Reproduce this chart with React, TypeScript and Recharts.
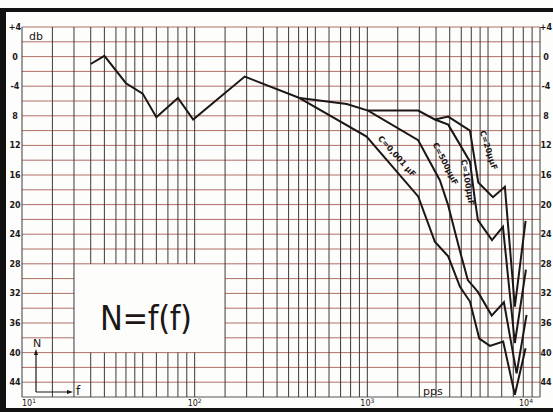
import React from 'react';
import { LineChart, Line, XAxis, YAxis, ReferenceLine } from 'recharts';

// frequency (pps) and attenuation (db)
const trunkFreq = [25, 30, 40, 50, 60, 80, 98, 195, 405];
const trunkDb = [1.0, -0.1, 3.6, 5.0, 8.2, 5.6, 8.5, 2.7, 5.6];

const c0001Freq = [405, 990, 1970, 2460, 2940, 3440, 3930, 4450, 5130, 6120, 7150, 8250];
const c0001Db = [5.6, 10.8, 18.9, 25.0, 27.0, 31.1, 33.1, 38.1, 39.1, 38.5, 45.7, 39.4];

const c500Freq = [405, 760, 1010, 1970, 2630, 2930, 3440, 3820, 4370, 5250, 6180, 7320, 8360];
const c500Db = [5.6, 6.4, 7.3, 11.3, 16.7, 20.0, 26.3, 30.2, 31.8, 35.0, 33.2, 42.8, 34.9];

const c100Freq = [1010, 1970, 2460, 2940, 3930, 4200, 4370, 5270, 6100, 7150, 8290];
const c100Db = [7.3, 7.3, 8.5, 9.2, 14.2, 19.4, 22.1, 24.8, 23.0, 38.7, 28.8];

const c20Freq = [2460, 2940, 3930, 4390, 5340, 6260, 7150, 8250];
const c20Db = [8.5, 8.1, 10.0, 17.0, 19.0, 17.6, 33.8, 22.2];

const dbTicks = [-4, 0, 4, 8, 12, 16, 20, 24, 28, 32, 36, 40, 44];
const dbTickLabels = ['+4', '0', '-4', '8', '12', '16', '20', '24', '28', '32', '36', '40', '44'];
const freqTicks = [10, 100, 1000, 10000];
const freqTickExp = ['1', '2', '3', '4'];

const decadeSteps = [1, 1.5, 2, 2.5, 3, 3.5, 4, 4.5, 5, 6, 7, 8, 9];
const decades = [10, 100, 1000];

const zip = (fs: number[], vs: number[]) => fs.map((f, i) => ({ f, v: vs[i] }));

const series = [
  zip(trunkFreq, trunkDb),
  zip(c0001Freq, c0001Db),
  zip(c500Freq, c500Db),
  zip(c100Freq, c100Db),
  zip(c20Freq, c20Db),
];

// grid
const vLines = [...decades.flatMap(d => decadeSteps.map(s => d * s)), 10000];
const hLines: number[] = [];
for (let v = -4; v <= 46; v += 2) hLines.push(v);

// white panel holding the formula (grid skipped there)
const boxF = [20, 150];
const boxDb = [28, 40];

const H_COLOR = '#a4564f';
const V_COLOR = '#3a3a3a';
const INK = '#1c1616';
const FONT = '"DejaVu Sans", sans-serif';

function DbTick(props: any) {
  const { y, payload } = props;
  const i = dbTicks.indexOf(payload.value);
  const label = dbTickLabels[i] ?? String(payload.value);
  return (
    <g fontFamily={FONT} fontSize={8} fontWeight="bold" fill={INK}>
      <text x={15} y={y + 3} textAnchor="middle">{label}</text>
      <text x={546} y={y + 3} textAnchor="middle">{label}</text>
    </g>
  );
}

function FreqTick(props: any) {
  const { x, payload } = props;
  const i = freqTicks.indexOf(payload.value);
  const anchor = i === 0 ? 'start' : i === freqTicks.length - 1 ? 'end' : 'middle';
  return (
    <text x={x} y={406} textAnchor={anchor} fontFamily={FONT} fontSize={8} fill={INK}>
      10<tspan dy={-3} fontSize={6}>{freqTickExp[i]}</tspan>
    </text>
  );
}

export default function App() {
  return (
    <div style={{ position: 'absolute', left: 0, top: 0, width: 553, height: 412, background: '#fdfdfb' }}>
      <LineChart width={553} height={412} margin={{ top: 27, right: 13, bottom: 0, left: 0 }}>
        <XAxis
          type="number"
          dataKey="f"
          scale="log"
          domain={[10, 10000]}
          allowDataOverflow
          ticks={freqTicks}
          axisLine={false}
          tickLine={false}
          height={15}
          tick={<FreqTick />}
        />
        <YAxis
          type="number"
          reversed
          domain={[-4, 46]}
          allowDataOverflow
          ticks={dbTicks}
          axisLine={false}
          tickLine={false}
          width={22}
          tick={<DbTick />}
        />
        {hLines.flatMap(v => {
          const color = v === 46 ? V_COLOR : H_COLOR;
          if (v > boxDb[0] && v < boxDb[1]) {
            return [
              <ReferenceLine key={`h${v}a`} segment={[{ x: 10, y: v }, { x: boxF[0], y: v }]} stroke={color} strokeOpacity={0.85} strokeWidth={1} zIndex={-90} />,
              <ReferenceLine key={`h${v}b`} segment={[{ x: boxF[1], y: v }, { x: 10000, y: v }]} stroke={color} strokeOpacity={0.85} strokeWidth={1} zIndex={-90} />,
            ];
          }
          return [<ReferenceLine key={`h${v}`} y={v} stroke={color} strokeOpacity={0.85} strokeWidth={1} zIndex={-90} />];
        })}
        {vLines.flatMap(f => {
          if (f > boxF[0] && f < boxF[1]) {
            return [
              <ReferenceLine key={`v${f}a`} segment={[{ x: f, y: -4 }, { x: f, y: boxDb[0] }]} stroke={V_COLOR} strokeWidth={1} zIndex={-80} />,
              <ReferenceLine key={`v${f}b`} segment={[{ x: f, y: boxDb[1] }, { x: f, y: 46 }]} stroke={V_COLOR} strokeWidth={1} zIndex={-80} />,
            ];
          }
          return [<ReferenceLine key={`v${f}`} x={f} stroke={V_COLOR} strokeWidth={1} zIndex={-80} />];
        })}
        {series.map((d, i) => (
          <Line
            key={i}
            data={d}
            dataKey="v"
            type="linear"
            stroke={INK}
            strokeWidth={2}
            dot={false}
            activeDot={false}
            isAnimationActive={false}
          />
        ))}
      </LineChart>

      {/* annotations of the scanned sheet */}
      <svg width={553} height={412} style={{ position: 'absolute', left: 0, top: 0, pointerEvents: 'none' }}>
        <rect x={0} y={8} width={553} height={4} fill="#111" />
        <rect x={0} y={8} width={6} height={404} fill="#111" />
        <rect x={0} y={408} width={553} height={4} fill="#111" />

        <text x={29} y={40} fontFamily={FONT} fontSize={11} fill={INK}>db</text>
        <text x={423} y={395} fontFamily={FONT} fontSize={11} fill={INK}>pps</text>

        <text x={100} y={330} fontFamily='"DejaVu Sans Condensed", "DejaVu Sans", sans-serif' fontSize={34} fill={INK} textLength={92} lengthAdjust="spacing">N=f(f)</text>

        <g stroke={INK} strokeWidth={1.2} fill="none">
          <line x1={36} y1={352} x2={36} y2={392} />
          <line x1={36} y1={392} x2={70} y2={392} />
        </g>
        <path d="M36 349 L34 355 L38 355 Z" fill={INK} />
        <path d="M73 392 L67 390 L67 394 Z" fill={INK} />
        <text x={37} y={347} textAnchor="middle" fontFamily={FONT} fontSize={11} fill={INK}>N</text>
        <text x={78} y={395} textAnchor="middle" fontFamily={FONT} fontSize={12} fill={INK}>f</text>

        <g fontFamily={FONT} fontSize={8} fontWeight="bold" fill={INK} textAnchor="middle">
          <text transform="translate(395,158) rotate(48)">C=0,001 μF</text>
          <text transform="translate(443,165) rotate(63)">C=500μμF</text>
          <text transform="translate(465,183) rotate(80)">C=100μμF</text>
          <text transform="translate(486,151) rotate(72)">C=20μμF</text>
        </g>
      </svg>
    </div>
  );
}
